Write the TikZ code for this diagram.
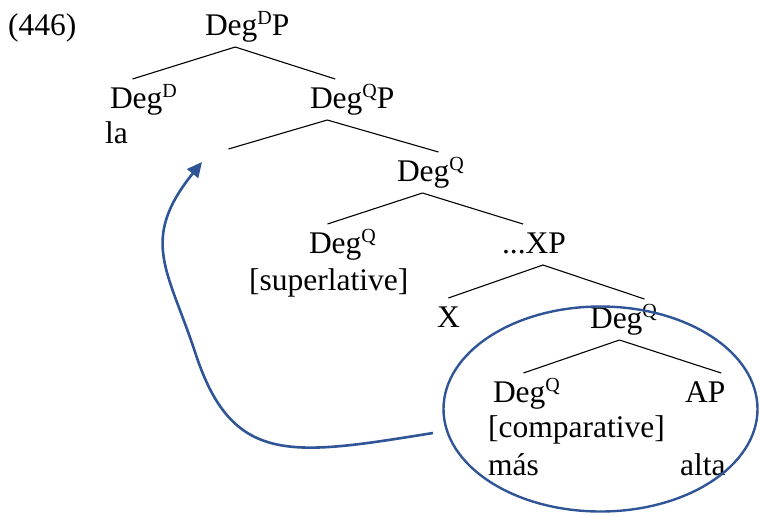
\documentclass[tikz,border=0pt]{standalone}
\usepackage{fontspec}
\setmainfont{Liberation Serif}
\usetikzlibrary{arrows.meta, shapes.geometric}
\definecolor{movblue}{HTML}{2F5597}
\newcommand{\fsup}[1]{\raisebox{11pt}{\fontsize{20}{20}\selectfont #1}}

\begin{document}
\begin{tikzpicture}[x=1pt, y=-1pt, every node/.style={font=\fontsize{31.5}{35}\selectfont},
  cat/.style={anchor=base west, inner sep=0pt, outer sep=5pt, text height=24pt, text depth=7pt},
  txt/.style={anchor=base west, inner sep=0pt},
  br/.style={line width=1.1pt},
  mov/.style={-{Triangle[length=15pt, width=14pt]}, movblue, line width=2.6pt},
  ring/.style={ellipse, draw=movblue, line width=2.4pt, inner sep=0pt,
    minimum width=314pt, minimum height=205pt}]
  \useasboundingbox (0,0) rectangle (760,515);
  \node[txt] (num) at (8,35) {(446)};
  % tree
  \node[cat] (degdp) at (200,35) {Deg\fsup{D}P};
  \node[cat] (degd) at (105,108) {Deg\fsup{D}};
  \node[txt] (la) at (105,143) {la};
  \node[cat] (degqp) at (305,108) {Deg\fsup{Q}P};
  \node[cat] (spec) at (223,178) {};
  \node[cat] (degq) at (392,181) {Deg\fsup{Q}};
  \node[cat] (sup) at (304,253) {Deg\fsup{Q}};
  \node[txt] (suplbl) at (249,290) {[superlative]};
  \node[cat] (xp) at (497,253) {...XP};
  \node[cat] (x) at (432,327) {X};
  \node[cat] (degqc) at (585,328) {Deg\fsup{Q}};
  \node[cat] (comp) at (488,402) {Deg\fsup{Q}};
  \node[txt] (complbl) at (488,437) {[comparative]};
  \node[txt] (mas) at (488,475) {más};
  \node[cat] (ap) at (680,402) {AP};
  \node[txt] (alta) at (680,475) {alta};
  \draw[br] ([xshift=-12pt]degdp.south) -- ([xshift=-11pt]degd.north);
  \draw[br] ([xshift=-12pt]degdp.south) -- ([xshift=-17pt]degqp.north);
  \draw[br] ([xshift=-25pt]degqp.south) -- (spec.north);
  \draw[br] ([xshift=-25pt]degqp.south) -- ([xshift=8pt]degq.north);
  \draw[br] ([xshift=-8pt]degq.south) -- ([xshift=-15pt]sup.north);
  \draw[br] ([xshift=-8pt]degq.south) -- ([xshift=-11pt]xp.north);
  \draw[br] ([xshift=9pt]xp.south) -- (x.north);
  \draw[br] ([xshift=9pt]xp.south) -- ([xshift=21pt]degqc.north);
  \draw[br] ([xshift=-4pt]degqc.south) -- ([xshift=-3pt]comp.north);
  \draw[br] ([xshift=-4pt]degqc.south) -- ([xshift=16pt]ap.north);
  % movement
  \node[ring] (moved) at (600.5,409) {};
  \coordinate (src) at (433,433);
  \coordinate (bend) at (195,352);
  \coordinate (tgt) at (202,162);
  \draw[mov] (src) .. controls (290,456) and (232,466) .. (bend)
    .. controls (168,270) and (139,240) .. (tgt);
\end{tikzpicture}
\end{document}
